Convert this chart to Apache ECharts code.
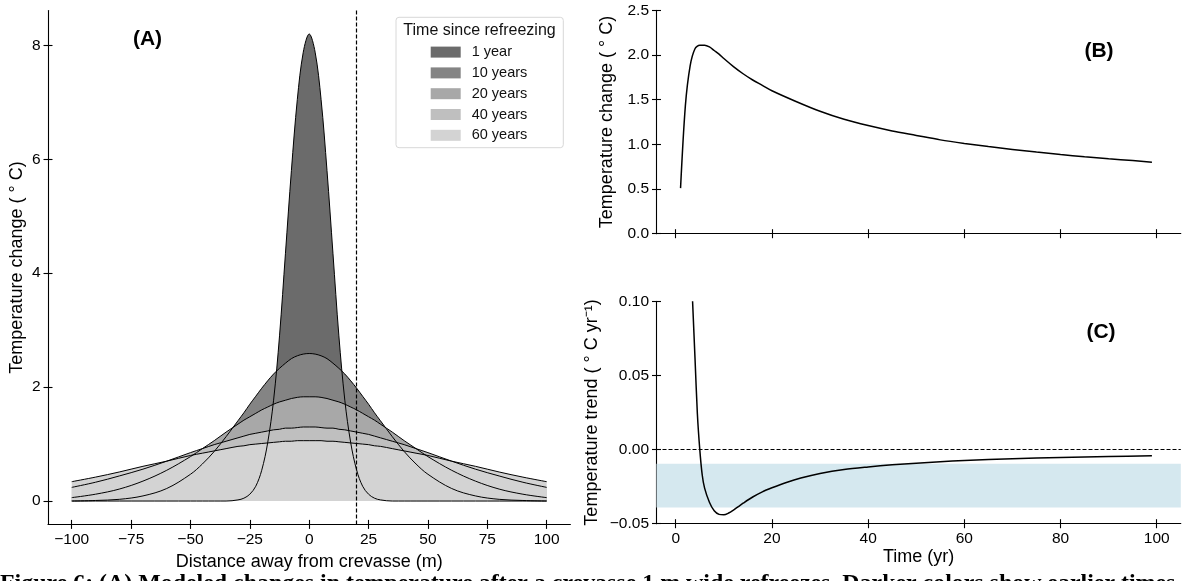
<!DOCTYPE html>
<html>
<head>
<meta charset="utf-8">
<script src="https://cdn.jsdelivr.net/npm/echarts@6/dist/echarts.min.js"></script>
<style>
html,body{margin:0;padding:0;background:#fff;}
#chart{width:1183px;height:581px;}
</style>
</head>
<body>
<div id="chart"></div>
<script>
// ---------- Panel A: temperature change vs distance ----------
const distance = [-100,-90,-80,-70,-60,-50,-45,-40,-35,-30,-27.5,-25,-22.5,-20,-17.5,-15,-12.5,-10,-7.5,-5,-2.5,0,2.5,5,7.5,10,12.5,15,17.5,20,22.5,25,27.5,30,35,40,45,50,60,70,80,90,100];
const year1  = [0,0,0,0,0,0,0,0,0,0.02,0.05,0.12,0.26,0.54,1.02,1.77,2.90,4.35,5.80,7.05,7.88,8.20,7.88,7.05,5.80,4.35,2.90,1.77,1.02,0.54,0.26,0.12,0.05,0.02,0,0,0,0,0,0,0,0,0];
const year10 = [0.00,0.01,0.03,0.09,0.22,0.47,0.65,0.87,1.13,1.41,1.55,1.70,1.84,1.98,2.11,2.23,2.33,2.42,2.50,2.55,2.58,2.59,2.58,2.55,2.50,2.42,2.33,2.23,2.11,1.98,1.84,1.70,1.55,1.41,1.13,0.87,0.65,0.47,0.22,0.09,0.03,0.01,0.00];
const year20 = [0.06,0.12,0.21,0.35,0.54,0.78,0.92,1.06,1.21,1.35,1.42,1.48,1.54,1.60,1.65,1.70,1.74,1.77,1.80,1.82,1.83,1.83,1.83,1.82,1.80,1.77,1.74,1.70,1.65,1.60,1.54,1.48,1.42,1.35,1.21,1.06,0.92,0.78,0.54,0.35,0.21,0.12,0.06];
const year40 = [0.24,0.33,0.44,0.56,0.70,0.85,0.92,0.99,1.05,1.11,1.14,1.17,1.19,1.21,1.23,1.25,1.26,1.28,1.28,1.29,1.30,1.30,1.30,1.29,1.28,1.28,1.26,1.25,1.23,1.21,1.19,1.17,1.14,1.11,1.05,0.99,0.92,0.85,0.70,0.56,0.44,0.33,0.24];
const year60 = [0.34,0.42,0.51,0.61,0.70,0.80,0.84,0.88,0.92,0.96,0.97,0.99,1.00,1.01,1.02,1.03,1.04,1.05,1.05,1.06,1.06,1.06,1.06,1.06,1.05,1.05,1.04,1.03,1.02,1.01,1.00,0.99,0.97,0.96,0.92,0.88,0.84,0.80,0.70,0.61,0.51,0.42,0.34];
const curveNames = ['1 year','10 years','20 years','40 years','60 years'];
const distTicks = [-100,-75,-50,-25,0,25,50,75,100];
const tempTicks = [0,2,4,6,8];
const crevasseEdge = 20;

// ---------- Panel B: temperature change vs time ----------
const timeB = [1,2,3,4,5,6,7,8,9,10,12,14,16,18,20,25,30,35,40,45,50,55,60,65,70,75,80,85,90,95,99];
const changeB = [0.51,1.43,1.88,2.07,2.11,2.11,2.09,2.05,2.01,1.96,1.87,1.79,1.72,1.66,1.60,1.48,1.37,1.28,1.21,1.15,1.10,1.05,1.01,0.975,0.943,0.913,0.886,0.861,0.838,0.818,0.80];

// ---------- Panel C: temperature trend vs time ----------
const timeC = [3.5,4,4.5,5,5.5,6,7,8,9,10,11,12,13,14,16,18,20,23,26,30,35,40,45,50,55,60,70,80,90,99];
const trendC = [0.10,0.062,0.024,0.0,-0.017,-0.026,-0.0355,-0.0413,-0.0437,-0.0440,-0.0428,-0.0408,-0.0385,-0.0362,-0.0320,-0.0285,-0.0258,-0.0222,-0.0192,-0.0161,-0.0134,-0.0117,-0.0103,-0.0092,-0.0082,-0.0074,-0.0062,-0.0054,-0.0047,-0.0042];
const timeTicks = [0,20,40,60,80,100];
const trendBand = [-0.039, -0.0095];

// ---------- styling ----------
const FONT = '"Liberation Sans", Arial, Helvetica, sans-serif';
const fills = ['#6b6b6b','#848484','#a8a8a8','#bfbfbf','#d3d3d3'];
const minus = s => String(s).replace('-', '\u2212');
const zip = (xs, ys) => xs.map((x, i) => [x, ys[i]]);

function mainAxis(dim, gridIndex, min, max, opts) {
  const a = {
    type: 'value', gridIndex, min, max,
    position: dim === 'x' ? 'bottom' : 'left',
    axisLine: {show: true, onZero: false, lineStyle: {color: '#000', width: 1.1}},
    axisTick: {show: true, inside: false, length: 4.5, lineStyle: {color: '#000', width: 1.1}},
    axisLabel: {show: opts.labels !== false, margin: 7.5, fontSize: 15.5, color: '#000', fontFamily: FONT,
      formatter: opts.formatter || (v => minus(v))},
    splitLine: {show: false},
    name: opts.name || '', nameLocation: 'middle', nameGap: opts.nameGap || 24,
    nameRotate: dim === 'y' ? 90 : 0,
    nameTextStyle: {fontSize: 18, color: '#000', fontFamily: FONT}
  };
  if (opts.ticks) { a.axisTick.customValues = opts.ticks; a.axisLabel.customValues = opts.ticks; }
  if (opts.interval) a.interval = opts.interval;
  return a;
}
function twinAxis(dim, gridIndex, min, max, opts) {
  const a = {
    type: 'value', gridIndex, min, max,
    position: dim === 'x' ? 'bottom' : 'left',
    axisLine: {show: false, onZero: false},
    axisTick: {show: true, inside: true, length: 4.5, lineStyle: {color: '#000', width: 1.1}},
    axisLabel: {show: false},
    splitLine: {show: false}
  };
  if (opts.ticks) { a.axisTick.customValues = opts.ticks; a.axisLabel.customValues = opts.ticks; }
  if (opts.interval) a.interval = opts.interval;
  return a;
}

const xA = {ticks: distTicks, name: 'Distance away from crevasse (m)', nameGap: 24};
const yA = {ticks: tempTicks, name: 'Temperature change ( \u00b0 C)', nameGap: 22};
const xB = {ticks: timeTicks, labels: false};
const yB = {interval: 0.5, name: 'Temperature change ( \u00b0 C)', nameGap: 40, formatter: v => v.toFixed(1)};
const xC = {ticks: timeTicks, name: 'Time (yr)', nameGap: 24};
const yC = {interval: 0.05, name: 'Temperature trend ( \u00b0 C yr\u207b\u00b9)', nameGap: 55, formatter: v => minus(v.toFixed(2))};

const curves = [year1, year10, year20, year40, year60];
const series = [];
curves.forEach((vals, i) => {
  series.push({
    type: 'line', name: curveNames[i], xAxisIndex: 0, yAxisIndex: 0,
    data: zip(distance, vals), smooth: 0.35, symbol: 'none', showSymbol: false,
    lineStyle: {width: 0}, itemStyle: {color: fills[i]},
    areaStyle: {color: fills[i], opacity: 1}, z: 2, silent: true
  });
});
curves.forEach((vals, i) => {
  const s = {
    type: 'line', name: curveNames[i] + ' curve', xAxisIndex: 0, yAxisIndex: 0,
    data: zip(distance, vals), smooth: 0.35, symbol: 'none', showSymbol: false,
    lineStyle: {color: '#000', width: 1}, itemStyle: {color: '#000'}, z: 3, silent: true
  };
  if (i === curves.length - 1) {
    s.markLine = {silent: true, symbol: 'none', label: {show: false},
      lineStyle: {color: '#000', width: 1.2, type: [4, 2]}, data: [{xAxis: crevasseEdge}]};
  }
  series.push(s);
});
series.push({
  type: 'line', name: 'B', xAxisIndex: 2, yAxisIndex: 2,
  data: zip(timeB, changeB), smooth: 0.3, symbol: 'none', showSymbol: false,
  lineStyle: {color: '#000', width: 1.5}, z: 3, silent: true
});
series.push({
  type: 'line', name: 'C', xAxisIndex: 4, yAxisIndex: 4,
  data: zip(timeC, trendC), smooth: 0.3, symbol: 'none', showSymbol: false,
  lineStyle: {color: '#000', width: 1.5}, z: 3, silent: true, clip: true,
  markLine: {silent: true, symbol: 'none', label: {show: false},
    lineStyle: {color: '#000', width: 1.2, type: [4, 2]}, data: [{yAxis: 0}]},
  markArea: {silent: true, itemStyle: {color: '#d5e8ef'},
    data: [[{yAxis: trendBand[0]}, {yAxis: trendBand[1]}]]}
});

const option = {
  animation: false,
  backgroundColor: '#fff',
  grid: [
    {left: 48, top: 10.6, width: 522.4, height: 513.8},
    {left: 656.5, top: 10.3, width: 524.3, height: 223.4},
    {left: 656.5, top: 301.3, width: 524.3, height: 222.4}
  ],
  xAxis: [
    mainAxis('x', 0, -110, 110, xA), twinAxis('x', 0, -110, 110, xA),
    mainAxis('x', 1, -4, 105, xB), twinAxis('x', 1, -4, 105, xB),
    mainAxis('x', 2, -4, 105, xC), twinAxis('x', 2, -4, 105, xC)
  ],
  yAxis: [
    mainAxis('y', 0, -0.41, 8.61, yA), twinAxis('y', 0, -0.41, 8.61, yA),
    mainAxis('y', 1, 0, 2.5, yB), twinAxis('y', 1, 0, 2.5, yB),
    mainAxis('y', 2, -0.05, 0.10, yC), twinAxis('y', 2, -0.05, 0.10, yC)
  ],
  legend: {
    show: true, orient: 'vertical', left: 430.7, top: 44.6, padding: 0,
    itemWidth: 30, itemHeight: 11, itemGap: 5.8, icon: 'rect', selectedMode: false,
    textStyle: {fontSize: 14.5, color: '#111', fontFamily: FONT, padding: [0, 0, 0, 6]},
    data: curveNames.map((n, i) => ({name: n, icon: 'rect', itemStyle: {color: fills[i], borderWidth: 0}}))
  },
  graphic: [
    {type: 'rect', z: 0, silent: true, shape: {x: 396, y: 17.3, width: 167.3, height: 130.4, r: 3},
      style: {fill: 'rgba(255,255,255,0.8)', stroke: '#d8d8d8', lineWidth: 1}},
    {type: 'text', silent: true, style: {text: 'Time since refreezing', x: 479.5, y: 30.7, align: 'center', verticalAlign: 'middle',
      fontSize: 16, fontFamily: FONT, fill: '#111'}},
    {type: 'text', silent: true, style: {text: '(A)', x: 147.5, y: 39.7, align: 'center', verticalAlign: 'middle',
      fontSize: 21, fontWeight: 'bold', fontFamily: FONT, fill: '#000'}},
    {type: 'text', silent: true, style: {text: '(B)', x: 1099, y: 51, align: 'center', verticalAlign: 'middle',
      fontSize: 21, fontWeight: 'bold', fontFamily: FONT, fill: '#000'}},
    {type: 'text', silent: true, style: {text: '(C)', x: 1101, y: 332, align: 'center', verticalAlign: 'middle',
      fontSize: 21, fontWeight: 'bold', fontFamily: FONT, fill: '#000'}},
    {type: 'text', silent: true, style: {text: 'Figure 6: (A) Modeled changes in temperature after a crevasse 1 m wide refreezes. Darker colors show earlier times',
      x: 0, y: 572, align: 'left', verticalAlign: 'top',
      fontSize: 23.9, fontWeight: 'bold', fontFamily: '"Liberation Serif", "Times New Roman", serif', fill: '#000'}}
  ],
  series
};

const chart = echarts.init(document.getElementById('chart'), null, {renderer: 'canvas'});
chart.setOption(option);
</script>
</body>
</html>
